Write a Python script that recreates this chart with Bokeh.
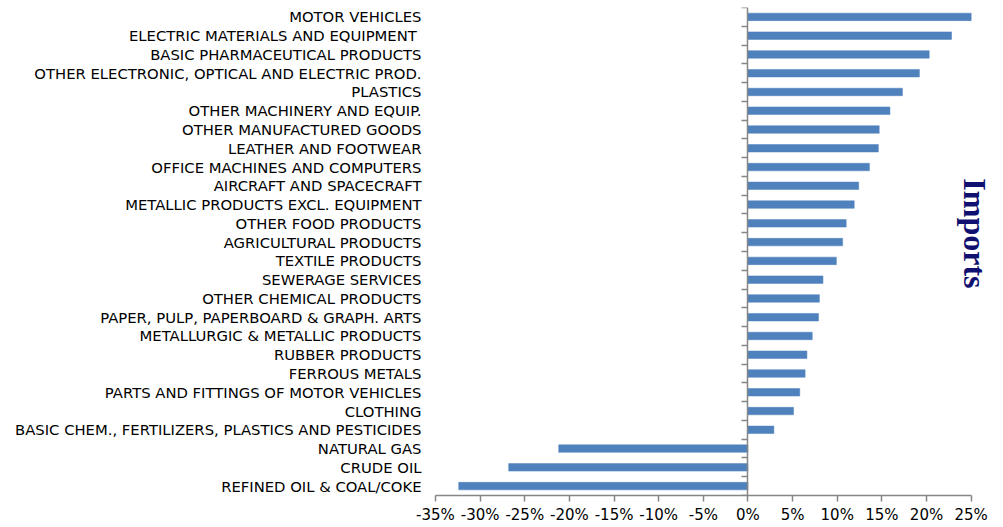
import math
from bokeh.plotting import figure
from bokeh.models import Range1d, FixedTicker, LinearAxis, PrintfTickFormatter, Label
from bokeh.embed import file_html
from bokeh.resources import INLINE

# Categories listed top to bottom
categories = [
    "MOTOR VEHICLES",
    "ELECTRIC MATERIALS AND EQUIPMENT ",
    "BASIC PHARMACEUTICAL PRODUCTS",
    "OTHER ELECTRONIC, OPTICAL AND ELECTRIC PROD.",
    "PLASTICS",
    "OTHER MACHINERY AND EQUIP.",
    "OTHER MANUFACTURED GOODS",
    "LEATHER AND FOOTWEAR",
    "OFFICE MACHINES AND COMPUTERS",
    "AIRCRAFT AND SPACECRAFT",
    "METALLIC PRODUCTS EXCL. EQUIPMENT",
    "OTHER FOOD PRODUCTS",
    "AGRICULTURAL PRODUCTS",
    "TEXTILE PRODUCTS",
    "SEWERAGE SERVICES",
    "OTHER CHEMICAL PRODUCTS",
    "PAPER, PULP, PAPERBOARD & GRAPH. ARTS",
    "METALLURGIC & METALLIC PRODUCTS",
    "RUBBER PRODUCTS",
    "FERROUS METALS",
    "PARTS AND FITTINGS OF MOTOR VEHICLES",
    "CLOTHING",
    "BASIC CHEM., FERTILIZERS, PLASTICS AND PESTICIDES",
    "NATURAL GAS",
    "CRUDE OIL",
    "REFINED OIL & COAL/COKE",
]
imports_change = [25.0, 22.8, 20.3, 19.2, 17.3, 15.9, 14.7, 14.6, 13.6, 12.4,
                  11.9, 11.0, 10.6, 9.9, 8.4, 8.0, 7.9, 7.2, 6.6, 6.4,
                  5.8, 5.1, 2.9, -21.2, -26.8, -32.4]
x_ticks = [-35, -30, -25, -20, -15, -10, -5, 0, 5, 10, 15, 20, 25]
series_title = "Imports"

n = len(categories)
y_centers = [n - 1 - i + 0.5 for i in range(n)]
boundaries = list(range(0, n + 1))

# frame extends a little past 25% so the rotated series title is not clipped
p = figure(width=993, height=526, output_backend="svg", toolbar_location=None,
           x_range=Range1d(x_ticks[0], x_ticks[-1] + 2.5), y_range=Range1d(0, n),
           min_border_left=435, min_border_right=0, min_border_top=7,
           min_border_bottom=27)
p.outline_line_color = None
p.xgrid.visible = False
p.ygrid.visible = False
p.background_fill_color = "white"

p.hbar(y=y_centers, left=0, right=imports_change, height=0.4,
       fill_color="#4F81BD", line_color="#4F81BD", line_width=0.5)

lab_font = "DejaVu Sans"

# x axis
xa = p.xaxis[0]
xa.ticker = FixedTicker(ticks=x_ticks)
xa.bounds = (x_ticks[0], x_ticks[-1])
xa.formatter = PrintfTickFormatter(format="%d%%")
xa.axis_line_color = "#868686"
xa.axis_line_width = 1.5
xa.major_tick_line_color = "#868686"
xa.major_tick_line_width = 1.5
xa.major_tick_in = 0
xa.major_tick_out = 6
xa.minor_tick_line_color = None
xa.major_label_text_font = lab_font
xa.major_label_text_font_size = "15px"
xa.major_label_text_color = "black"
xa.major_label_standoff = 4

# category labels on left
ya = p.yaxis[0]
ya.ticker = FixedTicker(ticks=y_centers)
ya.major_label_overrides = {float(c): name for c, name in zip(y_centers, categories)}
ya.axis_line_color = None
ya.major_tick_line_color = None
ya.minor_tick_line_color = None
ya.major_tick_in = 0
ya.major_tick_out = 0
ya.major_label_standoff = 14
ya.major_label_text_font = lab_font
ya.major_label_text_font_size = "14.8px"
ya.major_label_text_color = "black"

# vertical axis at zero with (minor) ticks at category boundaries, no labels
za = LinearAxis(fixed_location=0, ticker=FixedTicker(ticks=[], minor_ticks=boundaries),
                axis_line_color="#868686", axis_line_width=1.5,
                major_tick_line_color=None,
                minor_tick_line_color="#868686", minor_tick_line_width=1.5,
                minor_tick_in=0, minor_tick_out=6)
p.add_layout(za, "left")

p.add_layout(Label(x=25.4, y=n * 0.537, text=series_title, angle=-math.pi / 2,
                   text_align="center", text_baseline="alphabetic",
                   text_font="Liberation Serif", text_font_style="bold",
                   text_font_size="32px", text_color="#101070"))

open("out.html", "w").write(file_html(p, INLINE))
